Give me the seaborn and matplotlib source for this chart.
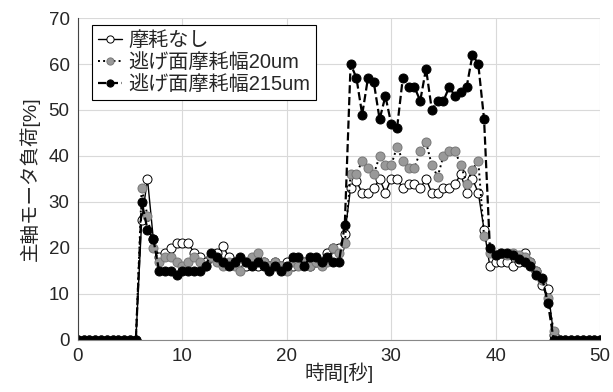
import numpy as np
import pandas as pd
import matplotlib
matplotlib.use("Agg")
import matplotlib.pyplot as plt
import seaborn as sns

# sample times [s], 91 samples from 0 to 50
time_s = np.linspace(0, 50, 91)

# 摩耗なし
no_wear = ([0] * 11 +
           [26, 35, 22, 18, 19, 20, 21, 21, 21, 19, 18, 17, 18, 19, 20.5, 18, 17, 17,
            16, 17, 16, 17, 16, 17, 16, 17, 16, 17, 17, 16, 17, 17, 19, 20, 20, 23] +
           [33, 34.5, 32, 32, 33, 35, 32, 35, 35, 33, 34, 34, 33, 35, 32, 32, 33, 33,
            34, 36, 32, 35, 32, 24] +
           [16, 17, 17, 17, 16, 17, 19, 17, 15, 12, 11, 1] + [0] * 8)

# 逃げ面摩耗幅20um
wear_20 = ([0] * 11 +
           [33, 27, 20, 17, 18, 18, 17, 16, 17, 18, 17, 16, 18, 17, 16, 17, 16, 15,
            17, 18, 19, 17, 16, 17, 16, 15, 17, 16, 17, 16, 17, 16, 17, 20, 19, 21] +
           [36, 36, 39, 37.4, 36, 40, 38, 38, 42, 39, 37.4, 37.4, 41, 43, 38, 35.5,
            40, 41, 41, 38, 34, 37, 39, 22.5] +
           [19, 18.5, 19, 18.5, 19, 18.5, 18, 17, 15, 13, 9, 2] + [0] * 8)

# 逃げ面摩耗幅215um
wear_215 = ([0] * 11 +
            [30, 24, 22, 15, 15, 15, 14, 15, 15, 15, 15, 16, 19, 18, 17, 16, 17, 18,
             17, 16, 17, 16, 15, 16, 15, 16, 18, 18, 16, 18, 18, 17, 18, 17, 17, 25] +
            [60, 57, 49, 57, 56, 48, 53, 47, 46, 57, 55, 55, 52, 59, 50, 52, 52, 55,
             53, 54, 55, 62, 60, 48] +
            [20, 18.5, 19, 19, 18.5, 17.5, 17, 16, 14, 13.5, 8, 0] + [0] * 8)

labels = ["摩耗なし", "逃げ面摩耗幅20um", "逃げ面摩耗幅215um"]

sns.set_style("white")
plt.rcParams["font.family"] = ["Liberation Sans", "Noto Sans CJK JP", "DejaVu Sans"]

fig = plt.figure(figsize=(6.13, 3.92), dpi=100)
ax = fig.add_axes([0.127, 0.133, 0.852, 0.821])

ax.grid(True, color="#d9d9d9", linewidth=0.8)
ax.set_axisbelow(True)

sns.lineplot(x=time_s, y=no_wear, ax=ax, color="black", linestyle="-", linewidth=1.0,
             marker="o", markersize=6.5, markerfacecolor="white", markeredgecolor="black",
             markeredgewidth=0.7, label=labels[0])
sns.lineplot(x=time_s, y=wear_20, ax=ax, color="black", linestyle=":", linewidth=1.4,
             marker="o", markersize=6.5, markerfacecolor="#999999", markeredgecolor="#777777",
             markeredgewidth=0.7, label=labels[1])
sns.lineplot(x=time_s, y=wear_215, ax=ax, color="black", linestyle="--", linewidth=1.6,
             marker="o", markersize=6.5, markerfacecolor="black", markeredgecolor="black",
             markeredgewidth=0.7, label=labels[2])

ax.set_xlim(0, 50)
ax.set_ylim(0, 70)
ax.set_xticks(range(0, 51, 10))
ax.set_yticks(range(0, 71, 10))
ax.tick_params(axis="both", labelsize=13.5, length=0, pad=6)
ax.set_xlabel("時間[秒]", fontsize=14, labelpad=-2)
ax.set_ylabel("主軸モータ負荷[%]", fontsize=14, labelpad=6)

for side in ["top", "right"]:
    ax.spines[side].set_visible(False)
ax.spines["left"].set_color("#444444")
ax.spines["bottom"].set_color("#888888")

leg = ax.legend(loc="upper left", bbox_to_anchor=(0.027, 0.978), fontsize=14.5,
                frameon=True, fancybox=False, edgecolor="black", framealpha=1,
                handlelength=1.2, handletextpad=0.3, borderpad=0.3, labelspacing=0.15,
                borderaxespad=0, markerscale=0.8)
leg.get_frame().set_linewidth(0.8)

fig.savefig("out.png", dpi=100)
